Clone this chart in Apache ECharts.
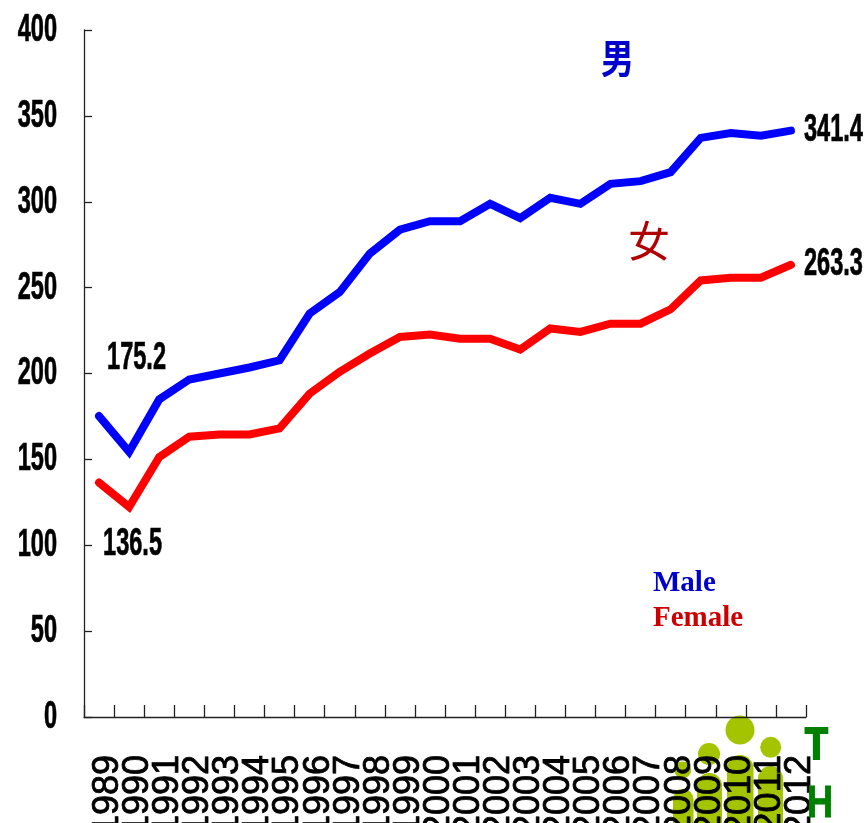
<!DOCTYPE html>
<html><head><meta charset="utf-8">
<style>html,body{margin:0;padding:0;background:#fff;overflow:hidden}#c{width:867px;height:823px}</style>
<script src="https://cdn.jsdelivr.net/npm/echarts@6/dist/echarts.min.js"></script>
</head><body><div id="c"></div>
<script>
const years=['1989','1990','1991','1992','1993','1994','1995','1996','1997','1998','1999','2000','2001','2002','2003','2004','2005','2006','2007','2008','2009','2010','2011','2012'];
const male=[175.2,154.4,184.9,196.5,200,203.5,207.7,234.9,247.4,269.8,283.7,288.7,288.7,298.8,290.5,302.3,298.8,310.4,312,317.2,337.2,340,338.5,341.4];
const female=[136.5,122.3,151.3,163.2,164.5,164.5,168,188.3,201,211.6,221.3,222.7,220.3,220.3,214,226.2,224.2,229,229,237.4,254.2,255.8,255.8,263.3];
const yTicks=[0,50,100,150,200,250,300,350,400];
const SANS='"Liberation Sans",Arial,sans-serif';
const NARROW_FONT='bold 38px '+SANS, NARROW_SCALE=0.62;
const narrowText=(x,y,text,align)=>({type:'text',x,y,scaleX:NARROW_SCALE,
  style:{text:String(text),font:NARROW_FONT,fill:'#000',stroke:'#000',lineWidth:0.7,align,verticalAlign:'middle',textAlign:align,textVerticalAlign:'middle'}});
const endLabels=[
 {i:0,v:male[0],dx:8,dy:-58},
 {i:0,v:female[0],dx:4,dy:62},
 {i:23,v:male[23],dx:13,dy:0},
 {i:23,v:female[23],dx:13,dy:0}
];
const LOGO='#a4c400';
const logoShapes=[
 {c:[740,730],r:14.5,b:[727,755,26.5]},
 {c:[770.7,747.3],r:10.5,b:[758,766,25]},
 {c:[709,754],r:11,b:[697,773,25]},
 {c:[682.7,770],r:8.5,b:[673,789,20.5]}
];
const graphics=[];
logoShapes.forEach(s=>{
 graphics.push({type:'circle',z:-1,shape:{cx:s.c[0],cy:s.c[1],r:s.r},style:{fill:LOGO}});
 graphics.push({type:'rect',z:-1,shape:{x:s.b[0],y:s.b[1],width:s.b[2],height:120,r:[s.b[2]/2,s.b[2]/2,0,0]},style:{fill:LOGO}});
});
const chart=echarts.init(document.getElementById('c'),null,{renderer:'canvas'});
chart.setOption({
 animation:false,
 backgroundColor:'#fff',
 grid:[
  {left:84,top:30,width:722,height:687,containLabel:false,outerBoundsMode:'none'},
  {left:93,top:30,width:722,height:687,containLabel:false,outerBoundsMode:'none'}
 ],
 xAxis:[
  {type:'category',data:years,boundaryGap:true,
   axisLine:{lineStyle:{color:'#222',width:1.3}},
   axisTick:{show:true,inside:true,interval:0,length:12,lineStyle:{color:'#222',width:1.3}},
   axisLabel:{show:false}},
  {type:'category',gridIndex:1,data:years,boundaryGap:true,
   axisLine:{show:false},axisTick:{show:false},
   axisLabel:{interval:0,rotate:90,margin:38,fontFamily:SANS,fontWeight:'normal',fontSize:36,color:'#000',textBorderColor:'#000',textBorderWidth:0.8,hideOverlap:false}}
 ],
 yAxis:[
  {type:'value',min:0,max:400,interval:50,splitLine:{show:false},
   axisLine:{show:true,lineStyle:{color:'#222',width:1.3}},
   axisTick:{show:true,inside:true,length:8,lineStyle:{color:'#222',width:1.3}},
   axisLabel:{show:false}},
  {type:'value',gridIndex:1,min:0,max:400,show:false}
 ],
 legend:{left:643,top:564,orient:'vertical',itemWidth:0,itemHeight:0,itemGap:6,selectedMode:false,
  data:[{name:'Male',icon:'none',textStyle:{color:'#0000cc'}},{name:'Female',icon:'none',textStyle:{color:'#cc0000'}}],
  textStyle:{fontFamily:'"Liberation Serif",serif',fontWeight:'bold',fontSize:29}},
 series:[
  {name:'Male',type:'line',data:male,symbol:'none',lineStyle:{color:'#0000ff',width:8,cap:'round',join:'miter'},itemStyle:{color:'#0000cc'},z:3},
  {name:'Female',type:'line',data:female,symbol:'none',lineStyle:{color:'#ff0000',width:8,cap:'round',join:'miter'},itemStyle:{color:'#cc0000'},z:3},
  {name:'yTickLabels',type:'custom',silent:true,clip:false,data:yTicks.map(v=>[0,v]),encode:{x:0,y:1},
   renderItem:(p,api)=>{const c=api.coord([0,api.value(1)]);return narrowText(p.coordSys.x-27,c[1]+0.5,api.value(1),'right');}},
  {name:'endLabels',type:'custom',silent:true,clip:false,data:endLabels.map(d=>[d.i,d.v]),encode:{x:0,y:1},
   renderItem:(p,api)=>{const d=endLabels[p.dataIndex],c=api.coord([d.i,d.v]);return narrowText(c[0]+d.dx,c[1]+d.dy,d.v.toFixed(1),'left');}},
  {name:'yearLabels',type:'line',xAxisIndex:1,yAxisIndex:1,data:[],symbol:'none',silent:true}
 ],
 graphic:graphics.concat([
  {type:'text',x:601,y:38,scaleY:1.22,z:5,style:{text:'男',fill:'#0000cc',font:'bold 33px "Noto Sans CJK TC"'}},
  {type:'text',left:628,top:220,z:5,style:{text:'女',fill:'#b00000',font:'42px "Noto Sans CJK TC"'}},
  {type:'text',x:805,y:725,scaleX:0.85,z:5,style:{text:'T',fill:'#008000',stroke:'#008000',lineWidth:2,font:'bold 44px '+SANS}},
  {type:'text',x:807,y:783,scaleX:0.82,z:5,style:{text:'H',fill:'#008000',stroke:'#008000',lineWidth:1,font:'bold 44px '+SANS}}
 ])
});
</script></body></html>
